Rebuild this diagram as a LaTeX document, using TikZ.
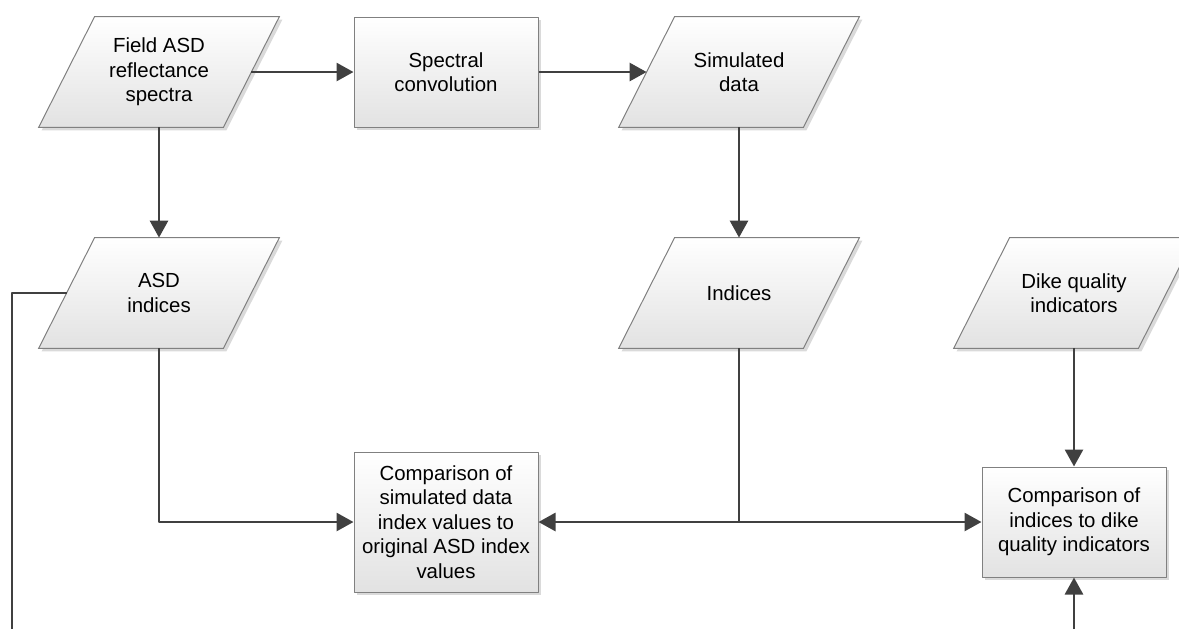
\documentclass[tikz,border=0pt]{standalone}
\usepackage{fontspec}
\setmainfont{Liberation Sans}
\usetikzlibrary{arrows.meta,shadows,backgrounds}
\definecolor{framegray}{HTML}{808080}
\definecolor{linegray}{HTML}{404040}
\definecolor{shadegray}{HTML}{E2E2E2}
\definecolor{shadowgray}{HTML}{DADADA}
\tikzset{
  softshadow/.style={drop shadow={shadow xshift=1.5pt,shadow yshift=-1.5pt,fill=shadowgray,opacity=1}},
  procbox/.style={draw=framegray,line width=0.5pt,top color=white,bottom color=shadegray,softshadow,
    minimum width=92pt,minimum height=55pt,inner sep=0pt,align=center,font=\fontsize{10.2}{12.2}\selectfont},
  datain/.style={minimum width=92pt,minimum height=55pt,inner sep=0pt,align=center,font=\fontsize{10.2}{12.2}\selectfont},
  datashape/.style={draw=framegray,line width=0.5pt,top color=white,bottom color=shadegray,softshadow},
  wire/.style={draw=linegray,line width=1.4pt},
  flow/.style={wire,-{Triangle[length=8.5pt,width=9pt]}}
}

\begin{document}
\begin{tikzpicture}[x=0.5pt,y=-0.5pt,line join=round]
\useasboundingbox (0,0) rectangle (1179,629);
% nodes
\node[datain] (spectra) at (159,72) {Field ASD\\reflectance\\spectra};
\node[procbox] (conv) at (446,72) {Spectral\\convolution};
\node[datain] (simdata) at (739,72) {Simulated\\data};
\node[datain] (asdidx) at (159,293) {ASD\\indices};
\node[datain] (idx) at (739,293) {Indices};
\node[datain] (dike) at (1074,293) {Dike quality\\indicators};
\node[procbox,minimum height=70pt] (cmpsim) at (446,522) {Comparison of\\simulated data\\index values to\\original ASD index\\values};
\node[procbox] (cmpdike) at (1074,522) {Comparison of\\indices to dike\\quality indicators};
\coordinate (loopdown) at (12,629);
\coordinate (feed) at (1074,629);
% data shapes
\begin{scope}[on background layer]
\foreach \n in {spectra,simdata,asdidx,idx,dike}
  \path[datashape] ([xshift=14pt]\n.north west) -- ([xshift=14pt]\n.north east)
    -- ([xshift=-14pt]\n.south east) -- ([xshift=-14pt]\n.south west) -- cycle;
\end{scope}
% connectors
\draw[flow] (spectra) -- (conv);
\draw[flow] (conv) -- (simdata);
\draw[flow] (spectra) -- (asdidx);
\draw[flow] (simdata) -- (idx);
\draw[flow] (asdidx) |- (cmpsim);
\draw[flow] (idx) |- (cmpsim);
\draw[flow] (idx) |- (cmpdike);
\draw[flow] (dike) -- (cmpdike);
\draw[flow] (feed) -- (cmpdike);
\draw[wire] (asdidx.west) -| (loopdown);
\end{tikzpicture}
\end{document}
